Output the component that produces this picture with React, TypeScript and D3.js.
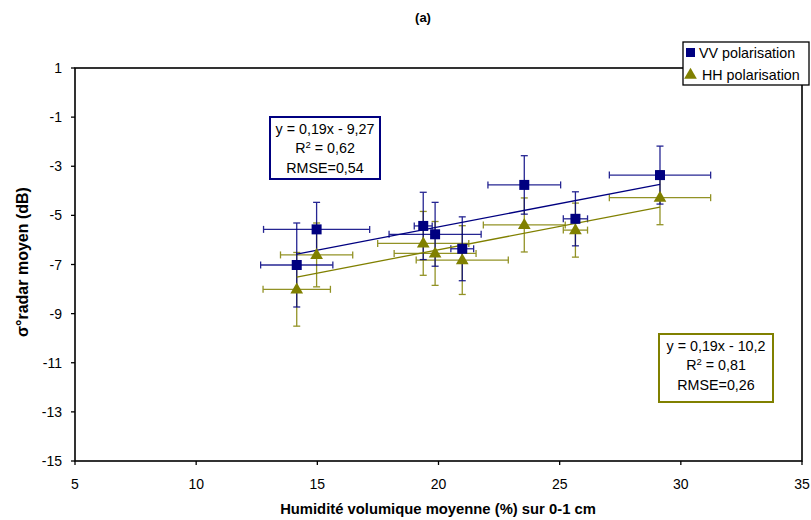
import React from "react";
import * as d3 from "d3";

// Mean soil moisture (%) on 0-1 cm, and mean radar backscatter (dB)
const moisture = [14.15, 14.97, 19.37, 19.86, 20.98, 23.54, 25.65, 29.14];

const vvSigma = [-7.02, -5.57, -5.43, -5.77, -6.36, -3.76, -5.14, -3.36];
const vvMoistureErr = [1.49, 2.19, 0.37, 1.9, 0.47, 1.5, 0.5, 2.09];
const vvSigmaErr = [1.71, 1.1, 1.37, 1.3, 1.3, 1.19, 1.1, 1.18];

const hhSigma = [-8.01, -6.61, -6.14, -6.55, -6.82, -5.39, -5.6, -4.28];
const hhMoistureErr = [1.39, 1.49, 1.88, 1.69, 1.9, 1.69, 0.5, 2.09];
const hhSigmaErr = [1.5, 1.3, 1.3, 1.3, 1.4, 1.1, 1.1, 1.1];

const vvFit = [0.19, -9.27];
const hhFit = [0.19, -10.2];

const xTicks = [5, 10, 15, 20, 25, 30, 35];
const yTicks = [1, -1, -3, -5, -7, -9, -11, -13, -15];

const seriesNames = ["VV polarisation", "HH polarisation"];
const vvStats = ["y = 0,19x - 9,27", "0,62", "RMSE=0,54"];
const hhStats = ["y = 0,19x - 10,2", "0,81", "RMSE=0,26"];

const NAVY = "#000080";
const OLIVE = "#808000";
const FONT = "'Liberation Sans', Arial, sans-serif";

export default function App() {
  const W = 811;
  const H = 520;
  const left = 75;
  const right = 802;
  const top = 68;
  const bottom = 461;

  const x = d3.scaleLinear().domain([5, 35]).range([left, right]);
  const y = d3.scaleLinear().domain([-15, 1]).range([bottom, top]);

  const cap = 3.5;

  const errorBars = (
    sig: number[],
    xe: number[],
    ye: number[],
    color: string,
    key: string
  ) =>
    moisture.map((mx, i) => {
      const cx = x(mx);
      const cy = y(sig[i]);
      const x0 = x(mx - xe[i]);
      const x1 = x(mx + xe[i]);
      const y0 = y(sig[i] + ye[i]);
      const y1 = y(sig[i] - ye[i]);
      return (
        <g key={key + i} stroke={color} strokeWidth={1.3} opacity={0.85}>
          <line x1={x0} x2={x1} y1={cy} y2={cy} />
          <line x1={x0} x2={x0} y1={cy - cap} y2={cy + cap} />
          <line x1={x1} x2={x1} y1={cy - cap} y2={cy + cap} />
          <line x1={cx} x2={cx} y1={y0} y2={y1} />
          <line x1={cx - cap} x2={cx + cap} y1={y0} y2={y0} />
          <line x1={cx - cap} x2={cx + cap} y1={y1} y2={y1} />
        </g>
      );
    });

  const fitLine = (fit: number[], color: string) => {
    const xs = d3.extent(moisture) as [number, number];
    const line = d3
      .line<number>()
      .x((d) => x(d))
      .y((d) => y(fit[0] * d + fit[1]));
    return <path d={line(xs) || ""} stroke={color} strokeWidth={1.3} fill="none" />;
  };

  const triangle = d3.symbol().type(d3.symbolTriangle).size(70)() || "";

  const statsBox = (
    lines: string[],
    cx: number,
    bx: number,
    by: number,
    bw: number,
    bh: number,
    color: string
  ) => (
    <g fontFamily={FONT} fontSize={14.3} textAnchor="middle" fill="#000">
      <rect x={bx} y={by} width={bw} height={bh} fill="#fff" stroke={color} strokeWidth={2} />
      <text x={cx} y={by + 16.5}>{lines[0]}</text>
      <text x={cx} y={by + 36}>
        R<tspan dy={-5} fontSize={9.5}>2</tspan>
        <tspan dy={5}> = {lines[1]}</tspan>
      </text>
      <text x={cx} y={by + 55.5}>{lines[2]}</text>
    </g>
  );

  return (
    <svg
      width={W}
      height={H}
      style={{ position: "absolute", left: 0, top: 0, background: "#fff" }}
      fontFamily={FONT}
    >
      <rect width={W} height={H} fill="#fff" />

      <text x={423} y={22} textAnchor="middle" fontWeight="bold" fontSize={13}>
        (a)
      </text>

      {/* plot frame */}
      <rect
        x={left}
        y={top}
        width={right - left}
        height={bottom - top}
        fill="none"
        stroke="#000"
        strokeWidth={1.6}
      />

      {/* y axis ticks and labels */}
      {yTicks.map((t) => (
        <g key={"y" + t}>
          <line x1={left - 4} x2={left} y1={y(t)} y2={y(t)} stroke="#000" strokeWidth={1.3} />
          <text x={62} y={y(t) + 5} textAnchor="end" fontSize={14} fill="#000">
            {t}
          </text>
        </g>
      ))}

      {/* x axis ticks and labels */}
      {xTicks.map((t) => (
        <g key={"x" + t}>
          <line x1={x(t)} x2={x(t)} y1={bottom} y2={bottom + 4} stroke="#000" strokeWidth={1.3} />
          <text x={x(t)} y={489} textAnchor="middle" fontSize={14} fill="#000">
            {t}
          </text>
        </g>
      ))}

      <text x={438} y={514} textAnchor="middle" fontWeight="bold" fontSize={14.8}>
        Humidité volumique moyenne (%) sur 0-1 cm
      </text>
      <text
        transform="translate(28,262) rotate(-90)"
        textAnchor="middle"
        fontWeight="bold"
        fontSize={16}
      >
        σ°radar moyen (dB)
      </text>

      {/* error bars */}
      {errorBars(hhSigma, hhMoistureErr, hhSigmaErr, OLIVE, "hh")}
      {errorBars(vvSigma, vvMoistureErr, vvSigmaErr, NAVY, "vv")}

      {/* regression lines */}
      {fitLine(vvFit, NAVY)}
      {fitLine(hhFit, OLIVE)}

      {/* markers */}
      {moisture.map((mx, i) => (
        <path
          key={"hhm" + i}
          d={triangle}
          transform={`translate(${x(mx)},${y(hhSigma[i]) + 0.5})`}
          fill={OLIVE}
        />
      ))}
      {moisture.map((mx, i) => (
        <rect
          key={"vvm" + i}
          x={x(mx) - 5}
          y={y(vvSigma[i]) - 5}
          width={10}
          height={10}
          fill={NAVY}
        />
      ))}

      {/* regression statistics */}
      {statsBox(vvStats, 325, 270, 117, 110, 62, NAVY)}
      {statsBox(hhStats, 716, 659, 334, 114, 68, OLIVE)}

      {/* legend */}
      <g fontFamily={FONT} fontSize={14.3}>
        <rect x={683} y={42} width={126} height={43} fill="#fff" stroke="#000" strokeWidth={1.3} />
        <rect x={686} y={48} width={9} height={9} fill={NAVY} />
        <text x={699} y={58}>{seriesNames[0]}</text>
        <path d={triangle} transform="translate(690.5,75)" fill={OLIVE} />
        <text x={702} y={79.5}>{seriesNames[1]}</text>
      </g>
    </svg>
  );
}
